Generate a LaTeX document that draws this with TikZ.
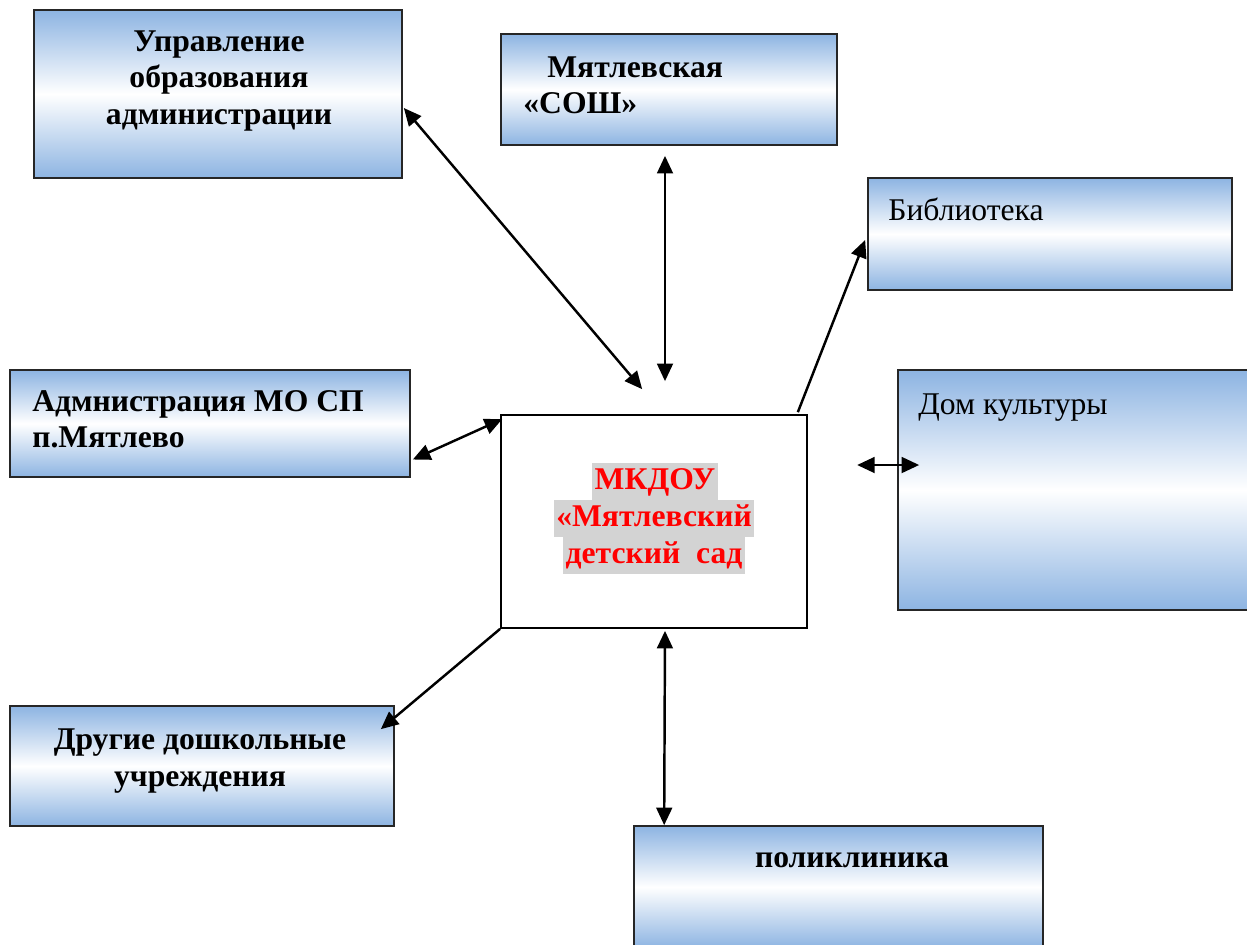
\documentclass[tikz,border=0pt]{standalone}
\usepackage{fontspec}
\setmainfont{Liberation Serif}
\usetikzlibrary{arrows.meta,calc}
\definecolor{boxblue}{RGB}{141,180,226}
\definecolor{markgray}{RGB}{211,211,211}
\tikzstyle{orgbox} = [draw=black!85, line width=1pt, rectangle,
top color=boxblue, bottom color=boxblue, middle color=white, inner sep=0pt]
\tikzstyle{boxtext} = [font=\fontsize{18}{20.8}\selectfont, inner sep=0pt]
\tikzstyle{redline} = [font=\fontsize{18}{20.5}\selectfont\bfseries, text=red,
fill=markgray, inner xsep=1.5pt, inner ysep=0pt, text height=0.54cm, text depth=0.2cm]
\tikzstyle{link} = [line width=1.4pt, -{Triangle[length=10pt,width=9pt]}]
\tikzstyle{twoway} = [line width=1.4pt,
{Triangle[length=10pt,width=9pt]}-{Triangle[length=10pt,width=9pt]}]
\begin{document}
\begin{tikzpicture}[x=0.02cm, y=-0.02cm]
		\useasboundingbox (0,0) rectangle (1247,944);
		% boxes
		\node [orgbox, minimum width=7.36cm, minimum height=3.36cm] (upr) at (218,94) {};
		\node [orgbox, minimum width=6.72cm, minimum height=2.22cm] (sosh) at (669,89.5) {};
		\node [orgbox, minimum width=7.28cm, minimum height=2.24cm] (lib) at (1050,234) {};
		\node [orgbox, minimum width=8cm, minimum height=2.14cm] (adm) at (210,423.5) {};
		\node [orgbox, minimum width=7.24cm, minimum height=4.8cm] (dom) at (1079,490) {};
		\node [orgbox, minimum width=7.68cm, minimum height=2.4cm] (drug) at (202,766) {};
		\node [orgbox, minimum width=8.18cm, minimum height=2.44cm] (poli) at (838.5,887) {};
		\node [draw=black, fill=white, line width=1pt, minimum width=6.12cm,
			minimum height=4.26cm, inner sep=0pt] (cc) at (654,521.5) {};
		
		% texts
		\node [boxtext, font=\fontsize{18}{20.8}\selectfont\bfseries, align=center] (uprtext) at (219,81)
			{Управление\\образования\\администрации};
		\node [boxtext, font=\fontsize{18}{20.8}\selectfont\bfseries, align=left, anchor=north west] (soshtext) at (523,56)
			{\hspace*{0.48cm}Мятлевская\\«СОШ»};
		\node [boxtext, anchor=base west] (libtext) at (888,220) {Библиотека};
		\node [boxtext, font=\fontsize{18}{20.8}\selectfont\bfseries, align=left, anchor=north west] (admtext) at (32,390)
			{Адмнистрация МО СП\\п.Мятлево};
		\node [boxtext, anchor=base west] (domtext) at (918,414) {Дом культуры};
		\node [boxtext, font=\fontsize{18}{20.8}\selectfont\bfseries, align=center] (drugtext) at (200,761)
			{Другие дошкольные\\учреждения};
		\node [boxtext, font=\fontsize{18}{20.8}\selectfont\bfseries, anchor=base] (politext) at (852,867) {поликлиника};
		\node [redline] (cc1) at (655,481) {МКДОУ};
		\node [redline] (cc2) at (654,518) {«Мятлевский};
		\node [redline] (cc3) at (654,555) {детский\ \ сад};
		
		% arrows
		\draw [twoway] ($(upr.east)+(1,14)$) -- ($(cc.north west)+(142,-25)$);
		\draw [twoway] ($(sosh.south)+(-4,10)$) -- ($(cc.north)+(11,-33)$);
		\draw [link] ($(cc.north east)+(-10,-2)$) -- ($(lib.west)+(-2,6)$);
		\draw [twoway] ($(cc.north west)+(2,5)$) -- ($(adm.east)+(2,36)$);
		\draw [twoway] ($(dom.west)+(-40,-25)$) -- ($(dom.west)+(22,-25)$);
		\draw [link] (cc.south west) -- ($(drug.north east)+(-14,24)$);
		\draw [twoway] ($(cc.south)+(11,2)$) -- ($(poli.north west)+(31,0)$);
\end{tikzpicture}
\end{document}
